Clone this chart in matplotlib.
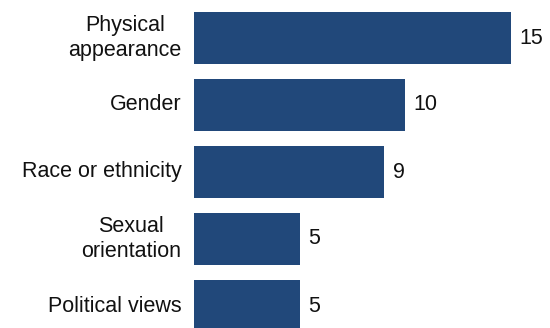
import numpy as np
import matplotlib.pyplot as plt

plt.rcParams['font.family'] = ['Liberation Sans', 'DejaVu Sans']

categories = ['Physical\nappearance', 'Gender', 'Race or ethnicity',
              'Sexual\norientation', 'Political views']
values = [15, 10, 9, 5, 5]
bar_color = '#21487a'

fig = plt.figure(figsize=(5.5, 3.28), dpi=100)
ax = fig.add_axes([194 / 550, 0, 356 / 550, 1])

y = np.arange(len(categories))
ax.barh(y, values, height=0.78, color=bar_color)

for yi, v in zip(y, values):
    ax.text(v + 0.4, yi, str(v), va='center', ha='left', fontsize=15.5, color='#111111')
for yi, c in zip(y, categories):
    ax.text(-0.6, yi, c, va='center', ha='right', multialignment='center',
            fontsize=15.5, color='#111111', linespacing=1.2)

ax.set_xlim(0, 356 / 21.13)
ax.set_ylim((328 - 38) / 67, -38 / 67)
ax.axis('off')

fig.savefig('out.png', dpi=100)
